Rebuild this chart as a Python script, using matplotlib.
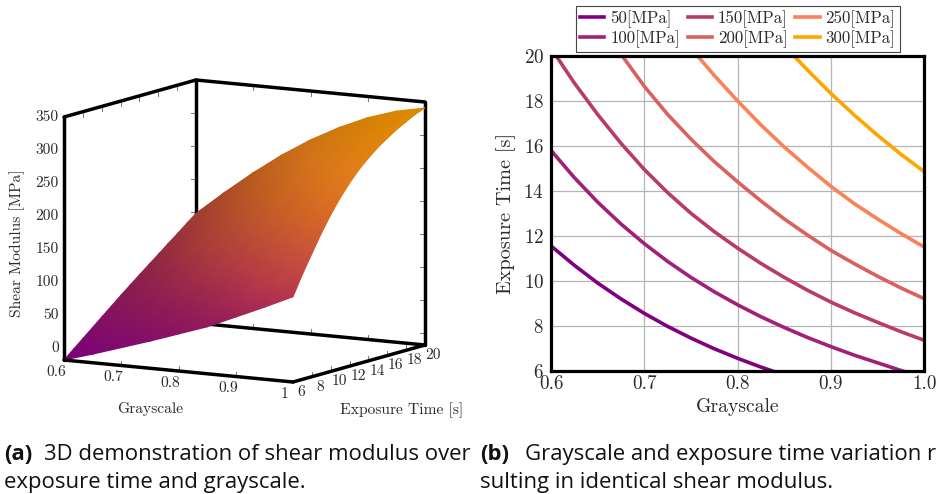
import numpy as np
import matplotlib
matplotlib.use("Agg")
import matplotlib.pyplot as plt
from matplotlib.colors import LinearSegmentedColormap, Normalize

# ---- data ----
grayscale = [0.60, 0.65, 0.70, 0.75, 0.80, 0.85, 0.90, 0.95, 1.00]
exposure = [6, 7, 8, 9, 10, 11, 12, 13, 14, 15, 16, 17, 18, 19, 20]
modulus = [
    [-18, -5.75, 6.5, 18.75, 31, 43.25, 55.5, 67.25, 79, 90.5, 102, 113.5, 125, 136.5, 148],
    [-5, 9, 23, 37, 51, 65, 79, 92.5, 106, 119, 132, 145, 158, 171, 184],
    [9, 25, 41, 57, 73, 89, 105, 120.7, 136, 150.7, 165, 178.7, 192, 205, 218],
    [23, 41.5, 60, 78.7, 97, 115, 132.5, 149.5, 165.5, 181, 196, 210.3, 224, 236.7, 249],
    [38, 59, 80, 100.7, 121, 140.3, 159, 176.5, 193, 208.7, 224, 237.7, 251, 263.7, 276],
    [53, 77.5, 101, 124.5, 147, 168, 188, 206, 223, 238.5, 253, 266, 278, 289, 299],
    [72, 98.5, 124, 148.5, 172, 193, 213, 230, 246, 261, 274, 286.5, 298, 308.5, 318],
    [91, 119, 146, 172, 197, 218.5, 238, 254.5, 270, 283, 295, 305.5, 315, 324, 332],
    [111, 141, 168, 195, 219, 240.5, 259, 275.5, 289, 301, 311, 320.3, 328, 335.5, 341],
]

g50 = [0.6, 0.625, 0.65, 0.675, 0.7, 0.725, 0.75, 0.775, 0.8, 0.825, 0.85]
t50 = [11.55, 10.69, 9.9, 9.195, 8.55, 7.97, 7.45, 6.975, 6.55, 6.16, 5.81]
g100 = [0.6, 0.625, 0.65, 0.675, 0.7, 0.725, 0.75, 0.775, 0.8, 0.825, 0.85, 0.875, 0.9, 0.925, 0.95, 0.975, 1.0]
t100 = [15.8, 14.59, 13.5, 12.525, 11.65, 10.86, 10.15, 9.51, 8.93, 8.40, 7.92, 7.475, 7.07, 6.69, 6.35, 6.01, 5.72]
g150 = [0.6, 0.625, 0.65, 0.675, 0.7, 0.725, 0.75, 0.775, 0.8, 0.825, 0.85, 0.875, 0.9, 0.925, 0.95, 0.975, 1.0]
t150 = [20.35, 18.8, 17.4, 16.115, 14.95, 13.92, 13.0, 12.185, 11.45, 10.77, 10.15, 9.575, 9.05, 8.58, 8.15, 7.735, 7.35]
g200 = [0.65, 0.675, 0.7, 0.725, 0.75, 0.775, 0.8, 0.825, 0.85, 0.875, 0.9, 0.925, 0.95, 0.975, 1.0]
t200 = [21.6, 20.08, 18.65, 17.4, 16.3, 15.3, 14.4, 13.55, 12.75, 12.03, 11.35, 10.76, 10.2, 9.68, 9.2]
g250 = [0.75, 0.775, 0.8, 0.825, 0.85, 0.875, 0.9, 0.925, 0.95, 0.975, 1.0]
t250 = [20.35, 19.13, 18.0, 16.93, 15.95, 15.05, 14.2, 13.43, 12.75, 12.1, 11.5]
g300 = [0.85, 0.875, 0.9, 0.925, 0.95, 0.975, 1.0]
t300 = [20.45, 19.37, 18.33, 17.37, 16.47, 15.63, 14.85]
contour_labels = ["50[MPa]", "100[MPa]", "150[MPa]", "200[MPa]", "250[MPa]", "300[MPa]"]
contour_colors = ["#800080", "#a0207a", "#b83b6b", "#d9625f", "#fa8258", "#ffa500"]

g_ticks = [0.6, 0.7, 0.8, 0.9, 1.0]
g_ticklabels = ["0.6", "0.7", "0.8", "0.9", "1"]
t_ticks = [6, 8, 10, 12, 14, 16, 18, 20]
z_ticks = [0, 50, 100, 150, 200, 250, 300, 350]

# ---- layout ----
plt.rcParams["font.family"] = ["cmr10", "DejaVu Sans"]
plt.rcParams["axes.unicode_minus"] = False
plt.rcParams["axes.formatter.use_mathtext"] = True
INK = "#2b2b2b"
fig = plt.figure(figsize=(9.36, 4.94), dpi=100)

# ---- (a) 3D view drawn through an affine projection ----
Z_MIN, Z_MAX = -18, 350
G0, G1, T0, T1 = 0.6, 1.0, 6, 20


def project(g, t, z):
    g, t, z = np.asarray(g, float), np.asarray(t, float), np.asarray(z, float)
    u, v, w = (g - G0) / (G1 - G0), (t - T0) / (T1 - T0), (z - Z_MIN) / (Z_MAX - Z_MIN)
    return 64 + 229 * u + 132 * v, 360 + 22 * u - 37 * v - 243 * w


ax3 = fig.add_axes([0, 0, 1, 1])
ax3.set_xlim(0, 936)
ax3.set_ylim(494, 0)
ax3.axis("off")


def edge(p, q, zorder):
    x, y = project(*zip(p, q))
    ax3.plot(x, y, color="black", lw=2.5, zorder=zorder, solid_capstyle="round")


edge((G0, T1, Z_MIN), (G0, T1, Z_MAX), 1)
edge((G0, T1, Z_MIN), (G1, T1, Z_MIN), 1)
edge((G0, T1, Z_MAX), (G1, T1, Z_MAX), 1)
edge((G0, T0, Z_MAX), (G0, T1, Z_MAX), 1)
edge((G1, T1, Z_MIN), (G1, T1, Z_MAX), 1)
edge((G0, T0, Z_MIN), (G0, T0, Z_MAX), 1)
edge((G0, T0, Z_MIN), (G1, T0, Z_MIN), 5)
edge((G1, T0, Z_MIN), (G1, T1, Z_MIN), 5)


def tick(g, t, z, dx, dy):
    x, y = project(g, t, z)
    ax3.plot([x, x + dx], [y, y + dy], color="#777777", lw=0.7, zorder=0.5)


for g in g_ticks[1:-1]:
    tick(g, T0, Z_MIN, 0, -5)
    tick(g, T1, Z_MIN, 0, -5)
    tick(g, T1, Z_MAX, 0, 5)
for t in t_ticks[1:-1]:
    tick(G1, t, Z_MIN, 0, -5)
    tick(G0, t, Z_MAX, 0, 5)
for z in z_ticks:
    tick(G0, T1, z, -5, 0)
    tick(G1, T1, z, -5, 0)

surface_cmap = LinearSegmentedColormap.from_list(
    "surface",
    [(0.0, "#7a007d"), (0.217, "#9b1e5f"), (0.384, "#be3c4b"), (0.496, "#c8503c"),
     (0.643, "#d76926"), (0.788, "#e47d1c"), (1.0, "#de8c00")],
)
G, T = np.meshgrid(grayscale, exposure, indexing="ij")
Z = np.array(modulus, float)
X, Y = project(G, T, Z)
rgb = surface_cmap(Normalize(Z_MIN, np.max(Z))(Z))[..., :3]
shade = 1 - 0.2 * (G1 - G) / (G1 - G0) * np.minimum(1, (Z - Z_MIN) / 120)
ax3.pcolormesh(X, Y, rgb * shade[..., None], shading="gouraud", zorder=3, rasterized=True)

for g, lab in zip(g_ticks, g_ticklabels):
    x, y = project(g, T0, Z_MIN)
    ax3.text(x - 8, y + 12, lab, ha="center", va="center", fontsize=11.2, color=INK)
for t in t_ticks:
    x, y = project(G1, t, Z_MIN)
    ax3.text(x + 8.5, y + 10, str(t), ha="center", va="center", fontsize=11.2, color=INK)
for z in z_ticks:
    x, y = project(G0, T0, z)
    ax3.text(x - 5, y, str(z), ha="right", va="center", fontsize=11.2, color=INK)

ax3.text(17, 243, "Shear Modulus [MPa]", rotation=90, ha="center", va="center",
         fontsize=11.2, color=INK)
ax3.text(150, 409, "Grayscale", ha="center", va="center", fontsize=11.2, color=INK)
ax3.text(402, 410, "Exposure Time [s]", ha="center", va="center", fontsize=11.2, color=INK)

# ---- (b) iso-modulus curves ----
ax = fig.add_axes([551 / 936, (494 - 370.7) / 494, (924.3 - 551) / 936, (370.7 - 56) / 494])
series = [(g50, t50), (g100, t100), (g150, t150), (g200, t200), (g250, t250), (g300, t300)]
for (gx, ty), lab, col in zip(series, contour_labels, contour_colors):
    ax.plot(gx, ty, color=col, lw=2.6, label=lab, solid_joinstyle="round", zorder=3)
ax.set_xlim(0.6, 1.0)
ax.set_ylim(6, 20)
ax.set_xticks([0.6, 0.7, 0.8, 0.9, 1.0])
ax.set_xticklabels(["0.6", "0.7", "0.8", "0.9", "1.0"])
ax.set_yticks([6, 8, 10, 12, 14, 16, 18, 20])
ax.grid(True, color="#b5b5b5", lw=0.9)
ax.set_axisbelow(True)
ax.tick_params(length=0, labelsize=13.8, labelcolor=INK, pad=5)
ax.tick_params(axis="x", pad=3)
ax.set_xlabel("Grayscale", fontsize=14.2, color=INK, labelpad=4)
ax.set_ylabel("Exposure Time [s]", fontsize=14.6, color=INK, labelpad=5)
for s in ax.spines.values():
    s.set_linewidth(2.3)
    s.set_zorder(6)
leg = ax.legend(ncol=3, loc="lower center", bbox_to_anchor=(0.5, 1.013), fontsize=12.1,
                frameon=True, fancybox=False, edgecolor="#444444", framealpha=1,
                handlelength=1.45, handletextpad=0.35, columnspacing=0.46, labelspacing=0.12,
                borderpad=0.25, borderaxespad=0)
leg.get_frame().set_linewidth(0.8)
for t in leg.get_texts():
    t.set_color(INK)

# ---- captions ----
CAP = ["Open Sans", "DejaVu Sans"]
fs = 15.9
fig.text(4 / 936, 1 - 460 / 494, "(a)", family=CAP, fontweight="bold", fontsize=fs, color="#111111")
fig.text(44 / 936, 1 - 460 / 494, "3D demonstration of shear modulus over", family=CAP, fontsize=fs, color="#111111")
fig.text(4 / 936, 1 - 488 / 494, "exposure time and grayscale.", family=CAP, fontsize=fs, color="#111111")
fig.text(480 / 936, 1 - 460 / 494, "(b)", family=CAP, fontweight="bold", fontsize=fs, color="#111111")
fig.text(525 / 936, 1 - 460 / 494, "Grayscale and exposure time variation re-", family=CAP, fontsize=fs, color="#111111")
fig.text(480 / 936, 1 - 488 / 494, "sulting in identical shear modulus.", family=CAP, fontsize=fs, color="#111111")

fig.savefig("out.png", dpi=100)
